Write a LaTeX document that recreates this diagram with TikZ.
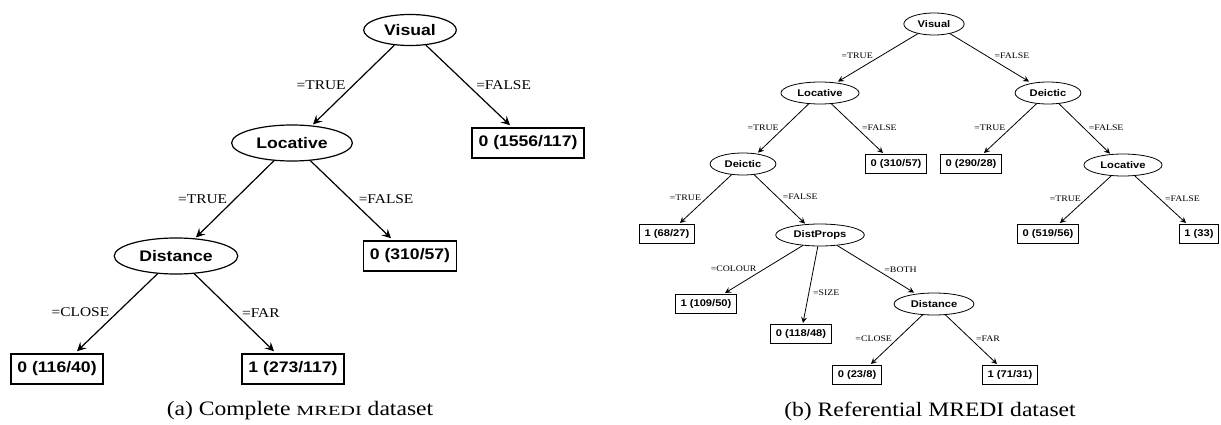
\documentclass[tikz,border=0pt]{standalone}
\usepackage{fontspec}
\setmainfont{Liberation Serif}
\newfontfamily\bsf[FakeStretch=1.15]{Liberation Sans}
\newfontfamily\lblf[FakeStretch=1.15]{Liberation Serif}
\newfontfamily\scf[FakeStretch=1.45]{Liberation Serif}
\usetikzlibrary{shapes.geometric,arrows.meta}
\tikzset{
  Lell/.style={ellipse, draw, line width=1.2pt, font=\bsf\bfseries\fontsize{15.3}{16}\selectfont, inner xsep=7pt, inner ysep=2pt, minimum height=36pt},
  Lbox/.style={rectangle, draw, line width=1.5pt, font=\bsf\bfseries\fontsize{15.3}{16}\selectfont, inner xsep=6.5pt, inner ysep=2pt, minimum height=30pt},
  Ledge/.style={line width=1.2pt, -{Stealth[length=9pt,width=9pt,inset=3.5pt]}},
  Llab/.style={font=\lblf\fontsize{13.4}{14}\selectfont, inner sep=1pt, pos=0.58},
  Rell/.style={ellipse, draw, line width=0.8pt, font=\bsf\bfseries\fontsize{9.7}{10}\selectfont, inner xsep=5pt, inner ysep=1pt, minimum height=22pt},
  Rbox/.style={rectangle, draw, line width=1pt, font=\bsf\bfseries\fontsize{9.7}{10}\selectfont, inner xsep=5pt, inner ysep=1pt, minimum height=19pt},
  Redge/.style={line width=0.8pt, -{Stealth[length=6pt,width=6pt,inset=2.3pt]}},
  Rlab/.style={font=\lblf\fontsize{8.5}{9}\selectfont, inner sep=0.8pt, pos=0.57},
  capt/.style={font=\lblf\fontsize{20.5}{22}\selectfont, inner sep=0pt}
}
\begin{document}
\begin{tikzpicture}[x=1pt,y=-1pt]
\useasboundingbox (0,0) rectangle (1221,425);
% ---------- (a) ----------
\node[Lell, minimum height=31pt] (lv) at (410,30) {Visual};
\node[Lell] (lloc) at (292,143) {Locative};
\node[Lbox] (l1556) at (528,143) {0 (1556/117)};
\node[Lell] (ldist) at (176,256) {Distance};
\node[Lbox] (l310) at (410,256) {0 (310/57)};
\node[Lbox] (l116) at (57,369) {0 (116/40)};
\node[Lbox] (l273) at (293,369) {1 (273/117)};
\draw[Ledge] (lv) -- ([xshift=21pt]lloc.north) node[Llab, anchor=south east] {=TRUE};
\draw[Ledge] (lv) -- ([xshift=-18pt,yshift=2pt]l1556.north) node[Llab, anchor=south west] {=FALSE};
\draw[Ledge] (lloc) -- ([xshift=20pt]ldist.north) node[Llab, anchor=south east] {=TRUE};
\draw[Ledge] (lloc) -- ([xshift=-19pt,yshift=2pt]l310.north) node[Llab, anchor=south west] {=FALSE};
\draw[Ledge] (ldist) -- ([xshift=20pt,yshift=2pt]l116.north) node[Llab, anchor=south east] {=CLOSE};
\draw[Ledge] (ldist) -- ([xshift=-19pt,yshift=2pt]l273.north) node[Llab, anchor=south west] {=FAR};
\node[capt] (capa) at (300,411) {(a) Complete {\scf\fontsize{14}{16}\selectfont MREDI} dataset};
% ---------- (b) ----------
\node[Rell] (rv) at (934,24) {Visual};
\node[Rell] (rl1) at (820,93) {Locative};
\node[Rell] (rd1) at (1048,93) {Deictic};
\node[Rell] (rd2) at (743,164) {Deictic};
\node[Rbox] (r310) at (896,164) {0 (310/57)};
\node[Rbox] (r290) at (971,164) {0 (290/28)};
\node[Rell] (rl2) at (1123,165) {Locative};
\node[Rbox] (r68) at (667,234) {1 (68/27)};
\node[Rell] (rdp) at (820,235) {DistProps};
\node[Rbox] (r519) at (1048,234) {0 (519/56)};
\node[Rbox] (r33) at (1199,234) {1 (33)};
\node[Rbox] (r109) at (706,304) {1 (109/50)};
\node[Rbox] (r118) at (801,334) {0 (118/48)};
\node[Rell] (rdist) at (934,304) {Distance};
\node[Rbox] (r23) at (857,375) {0 (23/8)};
\node[Rbox] (r71) at (1010,375) {1 (71/31)};
\draw[Redge] (rv) -- ([xshift=18pt]rl1.north) node[Rlab, pos=0.55, anchor=south east] {=TRUE};
\draw[Redge] (rv) -- ([xshift=-19pt]rd1.north) node[Rlab, pos=0.55, anchor=south west] {=FALSE};
\draw[Redge] (rl1) -- ([xshift=15pt]rd2.north) node[Rlab, anchor=south east] {=TRUE};
\draw[Redge] (rl1) -- ([xshift=-13pt,yshift=1pt]r310.north) node[Rlab, anchor=south west] {=FALSE};
\draw[Redge] (rd1) -- ([xshift=13pt,yshift=1pt]r290.north) node[Rlab, anchor=south east] {=TRUE};
\draw[Redge] (rd1) -- ([xshift=-13pt]rl2.north) node[Rlab, pos=0.56, anchor=south west] {=FALSE};
\draw[Redge] (rd2) -- ([xshift=13pt,yshift=1pt]r68.north) node[Rlab, anchor=south east] {=TRUE};
\draw[Redge] (rd2) -- ([xshift=-15pt]rdp.north) node[Rlab, pos=0.54, anchor=south west] {=FALSE};
\draw[Redge] (rl2) -- ([xshift=12pt,yshift=1pt]r519.north) node[Rlab, anchor=south east] {=TRUE};
\draw[Redge] (rl2) -- ([xshift=-13pt,yshift=1pt]r33.north) node[Rlab, anchor=south west] {=FALSE};
\draw[Redge] (rdp) -- ([xshift=19pt,yshift=1pt]r109.north) node[Rlab, pos=0.58, anchor=south east] {=COLOUR};
\draw[Redge] (rdp) -- ([xshift=2pt,yshift=1pt]r118.north) node[Rlab, pos=0.6, anchor=west, xshift=3pt] {=SIZE};
\draw[Redge] (rdp) -- ([xshift=-20pt]rdist.north) node[Rlab, pos=0.6, anchor=south west] {=BOTH};
\draw[Redge] (rdist) -- ([xshift=14pt,yshift=1pt]r23.north) node[Rlab, anchor=south east] {=CLOSE};
\draw[Redge] (rdist) -- ([xshift=-13pt,yshift=1pt]r71.north) node[Rlab, anchor=south west] {=FAR};
\node[capt] (capb) at (930,411) {(b) Referential MREDI dataset};
\end{tikzpicture}
\end{document}
